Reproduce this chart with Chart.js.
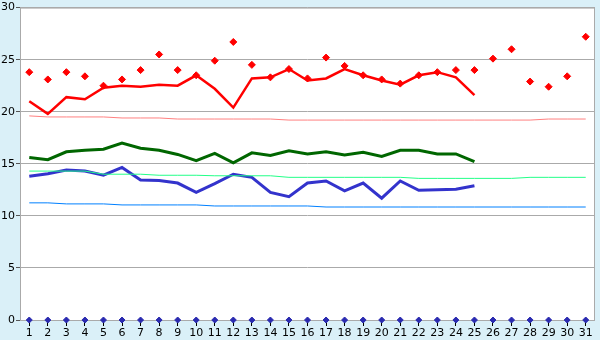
<!DOCTYPE html>
<html>
<head>
<meta charset="utf-8">
<script src="https://cdn.jsdelivr.net/npm/chart.js@4/dist/chart.umd.min.js"></script>
<style>
  html, body { margin: 0; padding: 0; background: #daf0f8; }
  canvas { display: block; }
</style>
</head>
<body>
<canvas id="chart" width="600" height="340"></canvas>
<script>
// dias del mes
const days = ["1","2","3","4","5","6","7","8","9","10","11","12","13","14","15","16",
              "17","18","19","20","21","22","23","24","25","26","27","28","29","30","31"];

// linea roja gruesa (dias 1-25)
const redLine = [21.0, 19.8, 21.4, 21.2, 22.3, 22.5, 22.4, 22.6, 22.5, 23.5, 22.2, 20.4, 23.2,
                 23.3, 24.1, 23.0, 23.2, 24.1, 23.5, 23.0, 22.6, 23.5, 23.8, 23.3, 21.6];

// rombos rojos (dias 1-31)
const redPoints = [23.8, 23.1, 23.8, 23.4, 22.5, 23.1, 24.0, 25.5, 24.0, 23.5, 24.9, 26.7, 24.5,
                   23.3, 24.1, 23.2, 25.2, 24.4, 23.5, 23.1, 22.7, 23.5, 23.8, 24.0, 24.0, 25.1,
                   26.0, 22.9, 22.4, 23.4, 27.2];

// linea verde gruesa (dias 1-25)
const greenLine = [15.6, 15.4, 16.15, 16.3, 16.4, 17.0, 16.5, 16.3, 15.9, 15.3, 16.0, 15.1, 16.05,
                   15.8, 16.25, 15.95, 16.15, 15.85, 16.1, 15.7, 16.3, 16.3, 15.95, 15.95, 15.2];

// linea azul gruesa (dias 1-25)
const blueLine = [13.8, 14.05, 14.4, 14.3, 13.9, 14.65, 13.45, 13.4, 13.15, 12.25, 13.1, 14.0, 13.7,
                  12.25, 11.85, 13.15, 13.35, 12.4, 13.15, 11.7, 13.35, 12.45, 12.5, 12.55, 12.9];

// lineas finas (valores normales)
const redNormal = [19.6, 19.5, 19.5, 19.5, 19.5, 19.4, 19.4, 19.4, 19.3, 19.3, 19.3, 19.3, 19.3, 19.3,
                   19.2, 19.2, 19.2, 19.2, 19.2, 19.2, 19.2, 19.2, 19.2, 19.2, 19.2, 19.2, 19.2, 19.2,
                   19.3, 19.3, 19.3];
const greenNormal = [14.3, 14.3, 14.3, 14.3, 14.0, 14.0, 14.0, 13.9, 13.9, 13.9, 13.85, 13.85, 13.85, 13.85,
                     13.7, 13.7, 13.7, 13.7, 13.7, 13.7, 13.7, 13.6, 13.6, 13.6, 13.6, 13.6, 13.6,
                     13.7, 13.7, 13.7, 13.7];
const blueNormal = [11.25, 11.25, 11.15, 11.15, 11.15, 11.05, 11.05, 11.05, 11.05, 11.05,
                    10.95, 10.95, 10.95, 10.95, 10.95, 10.95, 10.85, 10.85, 10.85, 10.85, 10.85,
                    10.85, 10.85, 10.85, 10.85, 10.85, 10.85, 10.85, 10.85, 10.85, 10.85];

// marcas azules sobre el eje
const zeroMarks = [0, 0, 0, 0, 0, 0, 0, 0, 0, 0, 0, 0, 0, 0, 0, 0, 0, 0, 0, 0, 0, 0, 0, 0, 0, 0, 0, 0, 0, 0, 0];

const yTicks = [0, 5, 10, 15, 20, 25, 30];

// fondo celeste, area blanca y borde gris
const framePlugin = {
    id: "frame",
    beforeDraw(chart) {
        const { ctx, chartArea: a } = chart;
        ctx.save();
        ctx.fillStyle = "#daf0f8";
        ctx.fillRect(0, 0, chart.width, chart.height);
        ctx.fillStyle = "#ffffff";
        ctx.fillRect(a.left, a.top, a.right - a.left, a.bottom - a.top);
        ctx.restore();
    },
    beforeDatasetsDraw(chart) {
        const { ctx, chartArea: a } = chart;
        ctx.save();
        ctx.strokeStyle = "#aaaaaa";
        ctx.lineWidth = 1;
        ctx.strokeRect(a.left + 0.5, a.top + 0.5, a.right - a.left - 1, a.bottom - a.top);
        ctx.restore();
    },
};

function lineSet(data, color, width) {
    return {
        data,
        borderColor: color,
        backgroundColor: color,
        borderWidth: width,
        pointRadius: 0,
        tension: 0,
        fill: false,
    };
}

new Chart(document.getElementById("chart"), {
    type: "line",
    data: {
        labels: days,
        datasets: [
            lineSet(blueNormal, "#0080ff", 1),
            lineSet(greenNormal, "#22ff88", 1),
            lineSet(redNormal, "#ff8080", 1),
            lineSet(blueLine, "#3333cc", 3),
            lineSet(greenLine, "#006600", 3),
            lineSet(redLine, "#ff0000", 2.5),
            {
                data: redPoints,
                showLine: false,
                pointStyle: "rectRot",
                pointRadius: 3.5,
                pointBackgroundColor: "#ff0000",
                pointBorderColor: "#ff0000",
                pointBorderWidth: 1,
            },
            {
                data: zeroMarks,
                showLine: false,
                clip: false,
                pointStyle: "rectRot",
                pointRadius: 3,
                pointBackgroundColor: "#2a2ab0",
                pointBorderColor: "#2a2ab0",
                pointBorderWidth: 1,
            },
        ],
    },
    options: {
        responsive: false,
        animation: false,
        events: [],
        layout: { padding: { top: 5, right: 5, left: 0, bottom: 0 } },
        plugins: { legend: { display: false }, tooltip: { enabled: false } },
        scales: {
            x: {
                offset: true,
                border: { display: false },
                grid: { drawOnChartArea: false, offset: false, tickLength: 6, tickColor: "#000000" },
                ticks: { color: "#000000", font: { family: "DejaVu Sans", size: 11 }, padding: 1,
                         maxRotation: 0, autoSkip: false },
                afterFit: (s) => { s.height = 20; },
            },
            y: {
                min: 0,
                max: 30,
                border: { display: false },
                grid: { color: "#aaaaaa", tickLength: 4, tickColor: "#555555" },
                ticks: { color: "#000000", font: { family: "DejaVu Sans", size: 11 }, padding: 1 },
                afterBuildTicks: (s) => { s.ticks = yTicks.map((v) => ({ value: v })); },
                afterFit: (s) => { s.width = 20; },
            },
        },
    },
    plugins: [framePlugin],
});
</script>
</body>
</html>
